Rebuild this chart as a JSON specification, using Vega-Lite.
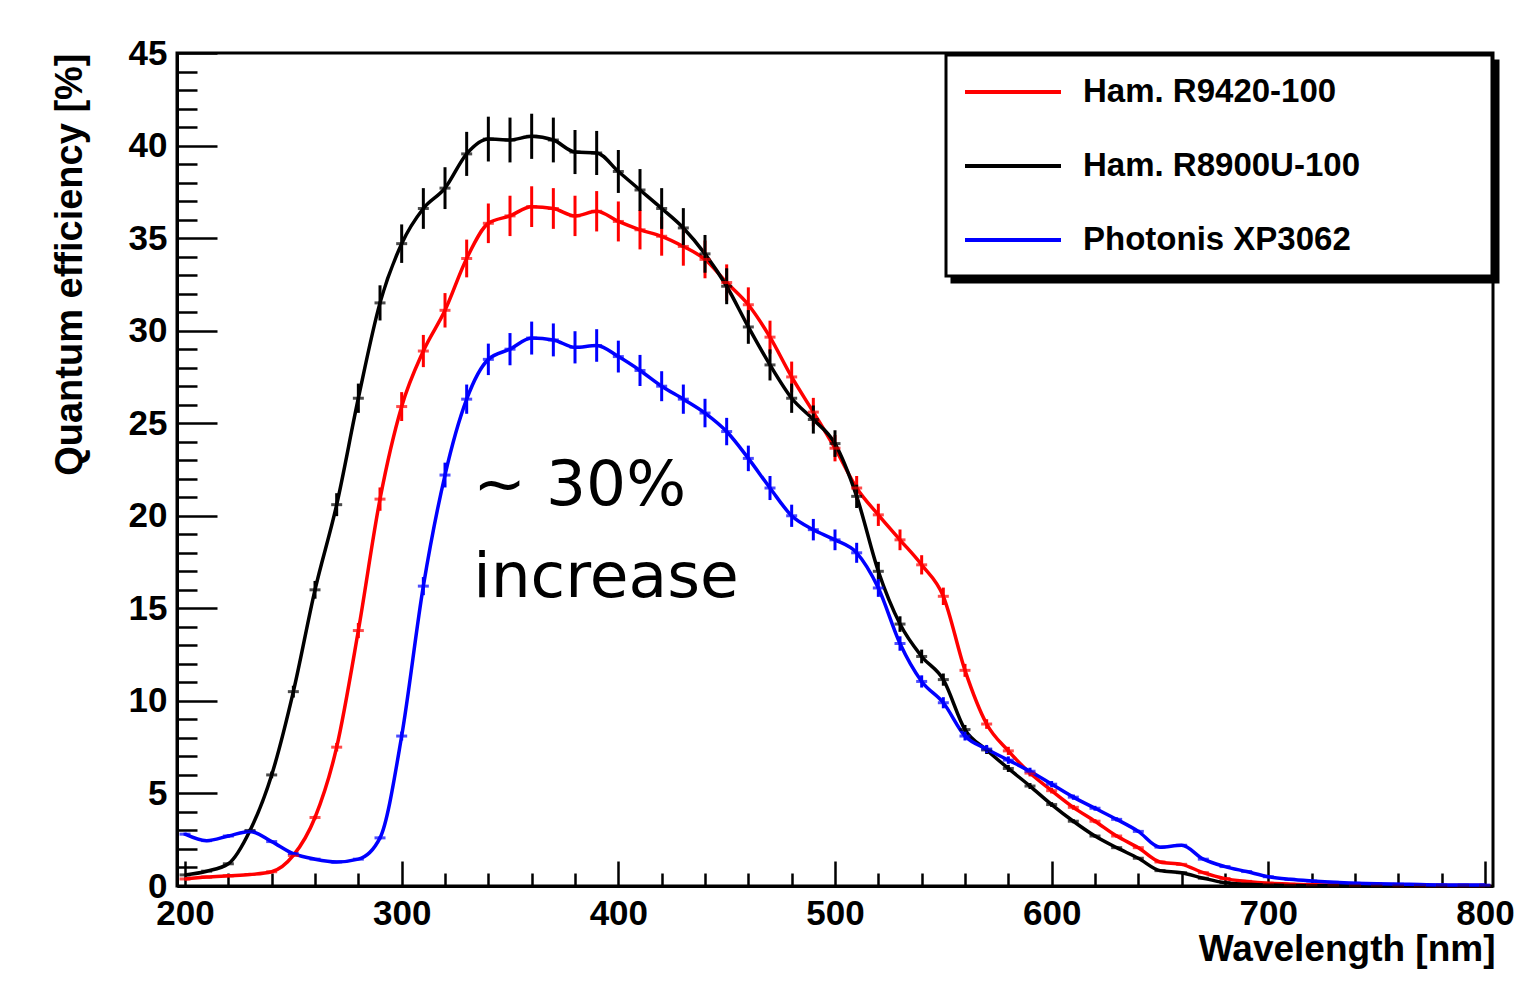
{
  "$schema": "https://vega.github.io/schema/vega-lite/v6.json",
  "width": 1316,
  "height": 833,
  "autosize": {"type": "none"},
  "padding": {"left": 177, "top": 53, "right": 46, "bottom": 96},
  "background": "white",
  "config": {
    "view": {"stroke": "black", "strokeWidth": 3},
    "font": "Liberation Sans",
    "legend": {"strokeWidth": 3}
  },
  "datasets": {
    "qe": [
      {"pmt":"Ham. R9420-100","wavelength":200,"qe":0.38,"err":0.01},
      {"pmt":"Ham. R9420-100","wavelength":210,"qe":0.48,"err":0.01},
      {"pmt":"Ham. R9420-100","wavelength":220,"qe":0.55,"err":0.02},
      {"pmt":"Ham. R9420-100","wavelength":230,"qe":0.62,"err":0.02},
      {"pmt":"Ham. R9420-100","wavelength":240,"qe":0.77,"err":0.02},
      {"pmt":"Ham. R9420-100","wavelength":250,"qe":1.65,"err":0.05},
      {"pmt":"Ham. R9420-100","wavelength":260,"qe":3.7,"err":0.11},
      {"pmt":"Ham. R9420-100","wavelength":270,"qe":7.5,"err":0.23},
      {"pmt":"Ham. R9420-100","wavelength":280,"qe":13.8,"err":0.41},
      {"pmt":"Ham. R9420-100","wavelength":290,"qe":20.9,"err":0.63},
      {"pmt":"Ham. R9420-100","wavelength":300,"qe":25.9,"err":0.78},
      {"pmt":"Ham. R9420-100","wavelength":310,"qe":28.9,"err":0.87},
      {"pmt":"Ham. R9420-100","wavelength":320,"qe":31.1,"err":0.93},
      {"pmt":"Ham. R9420-100","wavelength":330,"qe":33.9,"err":1.02},
      {"pmt":"Ham. R9420-100","wavelength":340,"qe":35.8,"err":1.07},
      {"pmt":"Ham. R9420-100","wavelength":350,"qe":36.2,"err":1.09},
      {"pmt":"Ham. R9420-100","wavelength":360,"qe":36.7,"err":1.1},
      {"pmt":"Ham. R9420-100","wavelength":370,"qe":36.6,"err":1.1},
      {"pmt":"Ham. R9420-100","wavelength":380,"qe":36.2,"err":1.09},
      {"pmt":"Ham. R9420-100","wavelength":390,"qe":36.45,"err":1.09},
      {"pmt":"Ham. R9420-100","wavelength":400,"qe":35.9,"err":1.08},
      {"pmt":"Ham. R9420-100","wavelength":410,"qe":35.45,"err":1.06},
      {"pmt":"Ham. R9420-100","wavelength":420,"qe":35.1,"err":1.05},
      {"pmt":"Ham. R9420-100","wavelength":430,"qe":34.55,"err":1.04},
      {"pmt":"Ham. R9420-100","wavelength":440,"qe":33.85,"err":1.02},
      {"pmt":"Ham. R9420-100","wavelength":450,"qe":32.6,"err":0.98},
      {"pmt":"Ham. R9420-100","wavelength":460,"qe":31.4,"err":0.94},
      {"pmt":"Ham. R9420-100","wavelength":470,"qe":29.65,"err":0.89},
      {"pmt":"Ham. R9420-100","wavelength":480,"qe":27.5,"err":0.83},
      {"pmt":"Ham. R9420-100","wavelength":490,"qe":25.6,"err":0.77},
      {"pmt":"Ham. R9420-100","wavelength":500,"qe":23.65,"err":0.71},
      {"pmt":"Ham. R9420-100","wavelength":510,"qe":21.5,"err":0.65},
      {"pmt":"Ham. R9420-100","wavelength":520,"qe":20.05,"err":0.6},
      {"pmt":"Ham. R9420-100","wavelength":530,"qe":18.7,"err":0.56},
      {"pmt":"Ham. R9420-100","wavelength":540,"qe":17.35,"err":0.52},
      {"pmt":"Ham. R9420-100","wavelength":550,"qe":15.65,"err":0.47},
      {"pmt":"Ham. R9420-100","wavelength":560,"qe":11.65,"err":0.35},
      {"pmt":"Ham. R9420-100","wavelength":570,"qe":8.75,"err":0.26},
      {"pmt":"Ham. R9420-100","wavelength":580,"qe":7.3,"err":0.22},
      {"pmt":"Ham. R9420-100","wavelength":590,"qe":6.1,"err":0.18},
      {"pmt":"Ham. R9420-100","wavelength":600,"qe":5.15,"err":0.15},
      {"pmt":"Ham. R9420-100","wavelength":610,"qe":4.25,"err":0.13},
      {"pmt":"Ham. R9420-100","wavelength":620,"qe":3.5,"err":0.11},
      {"pmt":"Ham. R9420-100","wavelength":630,"qe":2.7,"err":0.08},
      {"pmt":"Ham. R9420-100","wavelength":640,"qe":2.07,"err":0.06},
      {"pmt":"Ham. R9420-100","wavelength":650,"qe":1.3,"err":0.04},
      {"pmt":"Ham. R9420-100","wavelength":660,"qe":1.17,"err":0.04},
      {"pmt":"Ham. R9420-100","wavelength":670,"qe":0.72,"err":0.02},
      {"pmt":"Ham. R9420-100","wavelength":680,"qe":0.4,"err":0.01},
      {"pmt":"Ham. R9420-100","wavelength":690,"qe":0.25,"err":0.01},
      {"pmt":"Ham. R9420-100","wavelength":700,"qe":0.15,"err":0},
      {"pmt":"Ham. R9420-100","wavelength":710,"qe":0.1,"err":0},
      {"pmt":"Ham. R9420-100","wavelength":720,"qe":0.07,"err":0},
      {"pmt":"Ham. R9420-100","wavelength":730,"qe":0.05,"err":0},
      {"pmt":"Ham. R9420-100","wavelength":740,"qe":0.04,"err":0},
      {"pmt":"Ham. R9420-100","wavelength":750,"qe":0.04,"err":0},
      {"pmt":"Ham. R9420-100","wavelength":760,"qe":0.03,"err":0},
      {"pmt":"Ham. R9420-100","wavelength":770,"qe":0.03,"err":0},
      {"pmt":"Ham. R9420-100","wavelength":780,"qe":0.03,"err":0},
      {"pmt":"Ham. R9420-100","wavelength":790,"qe":0.03,"err":0},
      {"pmt":"Ham. R9420-100","wavelength":800,"qe":0.03,"err":0},
      {"pmt":"Ham. R8900U-100","wavelength":200,"qe":0.6,"err":0.02},
      {"pmt":"Ham. R8900U-100","wavelength":210,"qe":0.8,"err":0.02},
      {"pmt":"Ham. R8900U-100","wavelength":220,"qe":1.2,"err":0.04},
      {"pmt":"Ham. R8900U-100","wavelength":230,"qe":3.0,"err":0.09},
      {"pmt":"Ham. R8900U-100","wavelength":240,"qe":6.0,"err":0.18},
      {"pmt":"Ham. R8900U-100","wavelength":250,"qe":10.5,"err":0.32},
      {"pmt":"Ham. R8900U-100","wavelength":260,"qe":16.0,"err":0.48},
      {"pmt":"Ham. R8900U-100","wavelength":270,"qe":20.6,"err":0.62},
      {"pmt":"Ham. R8900U-100","wavelength":280,"qe":26.35,"err":0.79},
      {"pmt":"Ham. R8900U-100","wavelength":290,"qe":31.5,"err":0.95},
      {"pmt":"Ham. R8900U-100","wavelength":300,"qe":34.7,"err":1.04},
      {"pmt":"Ham. R8900U-100","wavelength":310,"qe":36.6,"err":1.1},
      {"pmt":"Ham. R8900U-100","wavelength":320,"qe":37.7,"err":1.13},
      {"pmt":"Ham. R8900U-100","wavelength":330,"qe":39.55,"err":1.19},
      {"pmt":"Ham. R8900U-100","wavelength":340,"qe":40.35,"err":1.21},
      {"pmt":"Ham. R8900U-100","wavelength":350,"qe":40.3,"err":1.21},
      {"pmt":"Ham. R8900U-100","wavelength":360,"qe":40.5,"err":1.22},
      {"pmt":"Ham. R8900U-100","wavelength":370,"qe":40.3,"err":1.21},
      {"pmt":"Ham. R8900U-100","wavelength":380,"qe":39.65,"err":1.19},
      {"pmt":"Ham. R8900U-100","wavelength":390,"qe":39.6,"err":1.19},
      {"pmt":"Ham. R8900U-100","wavelength":400,"qe":38.6,"err":1.16},
      {"pmt":"Ham. R8900U-100","wavelength":410,"qe":37.6,"err":1.13},
      {"pmt":"Ham. R8900U-100","wavelength":420,"qe":36.6,"err":1.1},
      {"pmt":"Ham. R8900U-100","wavelength":430,"qe":35.55,"err":1.07},
      {"pmt":"Ham. R8900U-100","wavelength":440,"qe":34.15,"err":1.02},
      {"pmt":"Ham. R8900U-100","wavelength":450,"qe":32.4,"err":0.97},
      {"pmt":"Ham. R8900U-100","wavelength":460,"qe":30.2,"err":0.91},
      {"pmt":"Ham. R8900U-100","wavelength":470,"qe":28.15,"err":0.84},
      {"pmt":"Ham. R8900U-100","wavelength":480,"qe":26.35,"err":0.79},
      {"pmt":"Ham. R8900U-100","wavelength":490,"qe":25.2,"err":0.76},
      {"pmt":"Ham. R8900U-100","wavelength":500,"qe":23.9,"err":0.72},
      {"pmt":"Ham. R8900U-100","wavelength":510,"qe":21.05,"err":0.63},
      {"pmt":"Ham. R8900U-100","wavelength":520,"qe":17.0,"err":0.51},
      {"pmt":"Ham. R8900U-100","wavelength":530,"qe":14.15,"err":0.42},
      {"pmt":"Ham. R8900U-100","wavelength":540,"qe":12.4,"err":0.37},
      {"pmt":"Ham. R8900U-100","wavelength":550,"qe":11.15,"err":0.33},
      {"pmt":"Ham. R8900U-100","wavelength":560,"qe":8.45,"err":0.25},
      {"pmt":"Ham. R8900U-100","wavelength":570,"qe":7.35,"err":0.22},
      {"pmt":"Ham. R8900U-100","wavelength":580,"qe":6.35,"err":0.19},
      {"pmt":"Ham. R8900U-100","wavelength":590,"qe":5.4,"err":0.16},
      {"pmt":"Ham. R8900U-100","wavelength":600,"qe":4.4,"err":0.13},
      {"pmt":"Ham. R8900U-100","wavelength":610,"qe":3.5,"err":0.11},
      {"pmt":"Ham. R8900U-100","wavelength":620,"qe":2.7,"err":0.08},
      {"pmt":"Ham. R8900U-100","wavelength":630,"qe":2.07,"err":0.06},
      {"pmt":"Ham. R8900U-100","wavelength":640,"qe":1.5,"err":0.05},
      {"pmt":"Ham. R8900U-100","wavelength":650,"qe":0.83,"err":0.02},
      {"pmt":"Ham. R8900U-100","wavelength":660,"qe":0.72,"err":0.02},
      {"pmt":"Ham. R8900U-100","wavelength":670,"qe":0.42,"err":0.01},
      {"pmt":"Ham. R8900U-100","wavelength":680,"qe":0.18,"err":0.01},
      {"pmt":"Ham. R8900U-100","wavelength":690,"qe":0.1,"err":0},
      {"pmt":"Ham. R8900U-100","wavelength":700,"qe":0.05,"err":0},
      {"pmt":"Ham. R8900U-100","wavelength":710,"qe":0.03,"err":0},
      {"pmt":"Ham. R8900U-100","wavelength":720,"qe":0.02,"err":0},
      {"pmt":"Ham. R8900U-100","wavelength":730,"qe":0.02,"err":0},
      {"pmt":"Ham. R8900U-100","wavelength":740,"qe":0.02,"err":0},
      {"pmt":"Ham. R8900U-100","wavelength":750,"qe":0.02,"err":0},
      {"pmt":"Ham. R8900U-100","wavelength":760,"qe":0.02,"err":0},
      {"pmt":"Ham. R8900U-100","wavelength":770,"qe":0.02,"err":0},
      {"pmt":"Ham. R8900U-100","wavelength":780,"qe":0.02,"err":0},
      {"pmt":"Ham. R8900U-100","wavelength":790,"qe":0.02,"err":0},
      {"pmt":"Ham. R8900U-100","wavelength":800,"qe":0.02,"err":0},
      {"pmt":"Photonis XP3062","wavelength":200,"qe":2.8,"err":0.08},
      {"pmt":"Photonis XP3062","wavelength":210,"qe":2.45,"err":0.07},
      {"pmt":"Photonis XP3062","wavelength":220,"qe":2.7,"err":0.08},
      {"pmt":"Photonis XP3062","wavelength":230,"qe":2.95,"err":0.09},
      {"pmt":"Photonis XP3062","wavelength":240,"qe":2.4,"err":0.07},
      {"pmt":"Photonis XP3062","wavelength":250,"qe":1.75,"err":0.05},
      {"pmt":"Photonis XP3062","wavelength":260,"qe":1.45,"err":0.04},
      {"pmt":"Photonis XP3062","wavelength":270,"qe":1.3,"err":0.04},
      {"pmt":"Photonis XP3062","wavelength":280,"qe":1.45,"err":0.04},
      {"pmt":"Photonis XP3062","wavelength":290,"qe":2.6,"err":0.08},
      {"pmt":"Photonis XP3062","wavelength":300,"qe":8.1,"err":0.24},
      {"pmt":"Photonis XP3062","wavelength":310,"qe":16.2,"err":0.49},
      {"pmt":"Photonis XP3062","wavelength":320,"qe":22.2,"err":0.67},
      {"pmt":"Photonis XP3062","wavelength":330,"qe":26.3,"err":0.79},
      {"pmt":"Photonis XP3062","wavelength":340,"qe":28.45,"err":0.85},
      {"pmt":"Photonis XP3062","wavelength":350,"qe":29.0,"err":0.87},
      {"pmt":"Photonis XP3062","wavelength":360,"qe":29.6,"err":0.89},
      {"pmt":"Photonis XP3062","wavelength":370,"qe":29.5,"err":0.89},
      {"pmt":"Photonis XP3062","wavelength":380,"qe":29.1,"err":0.87},
      {"pmt":"Photonis XP3062","wavelength":390,"qe":29.2,"err":0.88},
      {"pmt":"Photonis XP3062","wavelength":400,"qe":28.6,"err":0.86},
      {"pmt":"Photonis XP3062","wavelength":410,"qe":27.85,"err":0.84},
      {"pmt":"Photonis XP3062","wavelength":420,"qe":27.0,"err":0.81},
      {"pmt":"Photonis XP3062","wavelength":430,"qe":26.3,"err":0.79},
      {"pmt":"Photonis XP3062","wavelength":440,"qe":25.55,"err":0.77},
      {"pmt":"Photonis XP3062","wavelength":450,"qe":24.55,"err":0.74},
      {"pmt":"Photonis XP3062","wavelength":460,"qe":23.1,"err":0.69},
      {"pmt":"Photonis XP3062","wavelength":470,"qe":21.5,"err":0.65},
      {"pmt":"Photonis XP3062","wavelength":480,"qe":20.0,"err":0.6},
      {"pmt":"Photonis XP3062","wavelength":490,"qe":19.25,"err":0.58},
      {"pmt":"Photonis XP3062","wavelength":500,"qe":18.7,"err":0.56},
      {"pmt":"Photonis XP3062","wavelength":510,"qe":18.0,"err":0.54},
      {"pmt":"Photonis XP3062","wavelength":520,"qe":16.1,"err":0.48},
      {"pmt":"Photonis XP3062","wavelength":530,"qe":13.1,"err":0.39},
      {"pmt":"Photonis XP3062","wavelength":540,"qe":11.05,"err":0.33},
      {"pmt":"Photonis XP3062","wavelength":550,"qe":9.9,"err":0.3},
      {"pmt":"Photonis XP3062","wavelength":560,"qe":8.1,"err":0.24},
      {"pmt":"Photonis XP3062","wavelength":570,"qe":7.4,"err":0.22},
      {"pmt":"Photonis XP3062","wavelength":580,"qe":6.8,"err":0.2},
      {"pmt":"Photonis XP3062","wavelength":590,"qe":6.2,"err":0.19},
      {"pmt":"Photonis XP3062","wavelength":600,"qe":5.5,"err":0.17},
      {"pmt":"Photonis XP3062","wavelength":610,"qe":4.8,"err":0.14},
      {"pmt":"Photonis XP3062","wavelength":620,"qe":4.2,"err":0.13},
      {"pmt":"Photonis XP3062","wavelength":630,"qe":3.6,"err":0.11},
      {"pmt":"Photonis XP3062","wavelength":640,"qe":2.95,"err":0.09},
      {"pmt":"Photonis XP3062","wavelength":650,"qe":2.1,"err":0.06},
      {"pmt":"Photonis XP3062","wavelength":660,"qe":2.2,"err":0.07},
      {"pmt":"Photonis XP3062","wavelength":670,"qe":1.45,"err":0.04},
      {"pmt":"Photonis XP3062","wavelength":680,"qe":1.05,"err":0.03},
      {"pmt":"Photonis XP3062","wavelength":690,"qe":0.78,"err":0.02},
      {"pmt":"Photonis XP3062","wavelength":700,"qe":0.5,"err":0.02},
      {"pmt":"Photonis XP3062","wavelength":710,"qe":0.36,"err":0.01},
      {"pmt":"Photonis XP3062","wavelength":720,"qe":0.27,"err":0.01},
      {"pmt":"Photonis XP3062","wavelength":730,"qe":0.2,"err":0.01},
      {"pmt":"Photonis XP3062","wavelength":740,"qe":0.15,"err":0},
      {"pmt":"Photonis XP3062","wavelength":750,"qe":0.12,"err":0},
      {"pmt":"Photonis XP3062","wavelength":760,"qe":0.1,"err":0},
      {"pmt":"Photonis XP3062","wavelength":770,"qe":0.08,"err":0},
      {"pmt":"Photonis XP3062","wavelength":780,"qe":0.06,"err":0},
      {"pmt":"Photonis XP3062","wavelength":790,"qe":0.05,"err":0},
      {"pmt":"Photonis XP3062","wavelength":800,"qe":0.05,"err":0}
    ],
    "note": [
      {"wavelength": 333, "qe": 20.58, "note": "~ 30%"},
      {"wavelength": 333, "qe": 15.6, "note": "increase"}
    ]
  },
  "encoding": {
    "x": {
      "field": "wavelength", "type": "quantitative",
      "scale": {"domain": [196.3, 803.7], "nice": false, "zero": false},
      "axis": {
        "values": [200,220,240,260,280,300,320,340,360,380,400,420,440,460,480,500,520,540,560,580,600,620,640,660,680,700,720,740,760,780,800],
        "format": "d",
        "tickSize": {"condition": {"test": "datum.value % 100 === 0", "value": -25}, "value": -13},
        "tickWidth": 2.5, "tickColor": "black",
        "labelExpr": "datum.value % 100 === 0 ? datum.label : ''",
        "labelPadding": 35,
        "labelFont": "Liberation Sans", "labelFontWeight": "bold", "labelFontSize": 35, "labelColor": "black",
        "labelOverlap": false, "labelFlush": false, "labelBound": false,
        "domainColor": "black", "domainWidth": 3, "grid": false,
        "title": "Wavelength [nm]",
        "titleFont": "Liberation Sans", "titleFontWeight": "bold", "titleFontSize": 37, "titleColor": "black",
        "titleAnchor": "end", "titleAlign": "right", "titleBaseline": "alphabetic",
        "titleX": 1318, "titleY": 74
      }
    },
    "y": {
      "field": "qe", "type": "quantitative",
      "scale": {"domain": [0, 45], "nice": false, "zero": false},
      "axis": {
        "values": [0,1,2,3,4,5,6,7,8,9,10,11,12,13,14,15,16,17,18,19,20,21,22,23,24,25,26,27,28,29,30,31,32,33,34,35,36,37,38,39,40,41,42,43,44,45],
        "format": "d",
        "tickSize": {"condition": {"test": "datum.value % 5 === 0", "value": -40}, "value": -20},
        "tickWidth": 2.5, "tickColor": "black",
        "labelExpr": "datum.value % 5 === 0 ? datum.label : ''",
        "labelPadding": 50,
        "labelFont": "Liberation Sans", "labelFontWeight": "bold", "labelFontSize": 35, "labelColor": "black",
        "labelOverlap": false, "labelFlush": false, "labelBound": false,
        "domainColor": "black", "domainWidth": 3, "grid": false,
        "title": "Quantum efficiency [%]",
        "titleFont": "Liberation Sans", "titleFontWeight": "bold", "titleFontSize": 38, "titleColor": "black",
        "titleAngle": -90, "titleAlign": "right", "titleBaseline": "middle",
        "titleX": -107, "titleY": 0
      }
    }
  },
  "layer": [
    {
      "mark": {"type": "rule", "color": "#ff0000", "strokeWidth": 1.5, "strokeDash": [10, 6]},
      "encoding": {"x": {"datum": 200}, "x2": {"datum": 800}, "y": {"datum": 35}}
    },
    {
      "mark": {"type": "rule", "color": "#0000ff", "strokeWidth": 1.5, "strokeDash": [10, 6]},
      "encoding": {"x": {"datum": 200}, "x2": {"datum": 800}, "y": {"datum": 27}}
    },
    {
      "data": {"name": "qe"},
      "mark": {"type": "line", "interpolate": "monotone", "strokeWidth": 3.5},
      "encoding": {
        "color": {
          "field": "pmt", "type": "nominal",
          "scale": {"domain": ["Ham. R9420-100", "Ham. R8900U-100", "Photonis XP3062"], "range": ["#ff0000", "#000000", "#0000ff"]},
          "legend": {
            "orient": "none", "legendX": 769, "legendY": 2, "zindex": 3,
            "title": null,
            "symbolType": "M-3,0H3M28.2,0", "symbolSize": 1024, "symbolStrokeWidth": 4, "symbolOffset": 30,
            "labelFont": "Liberation Sans", "labelFontWeight": "bold", "labelFontSize": 33, "labelColor": "black",
            "labelOffset": 52, "labelLimit": 2000,
            "rowPadding": 39, "padding": 19,
            "fillColor": "white", "strokeColor": "black"
          }
        }
      }
    },
    {
      "data": {"name": "qe"},
      "mark": {"type": "errorbar", "ticks": false, "thickness": 3},
      "encoding": {
        "yError": {"field": "err"},
        "color": {"field": "pmt", "type": "nominal", "legend": null},
        "opacity": {
          "field": "pmt", "type": "nominal",
          "scale": {"domain": ["Photonis XP3062", "Ham. R8900U-100", "Ham. R9420-100"], "range": [1, 1, 1]},
          "legend": {
            "orient": "none", "legendX": 775, "legendY": 8, "zindex": 1,
            "title": null,
            "symbolType": "M-3,0H3M28.2,0", "symbolSize": 1024, "symbolStrokeWidth": 4, "symbolOffset": 30,
            "symbolStrokeColor": "black", "symbolFillColor": "black",
            "labelFont": "Liberation Sans", "labelFontWeight": "bold", "labelFontSize": 33, "labelColor": "black",
            "labelOpacity": 0,
            "labelOffset": 52, "labelLimit": 2000,
            "rowPadding": 39, "padding": 19,
            "fillColor": "black", "strokeColor": "black"
          }
        }
      }
    },
    {
      "data": {"name": "qe"},
      "mark": {"type": "tick", "orient": "horizontal", "size": 11, "thickness": 3},
      "encoding": {
        "color": {"field": "pmt", "type": "nominal", "legend": null}
      }
    },
    {
      "data": {"name": "note"},
      "mark": {"type": "text", "align": "left", "baseline": "alphabetic", "font": "DejaVu Sans", "fontSize": 63},
      "encoding": {"text": {"field": "note", "type": "nominal"}}
    }
  ]
}
